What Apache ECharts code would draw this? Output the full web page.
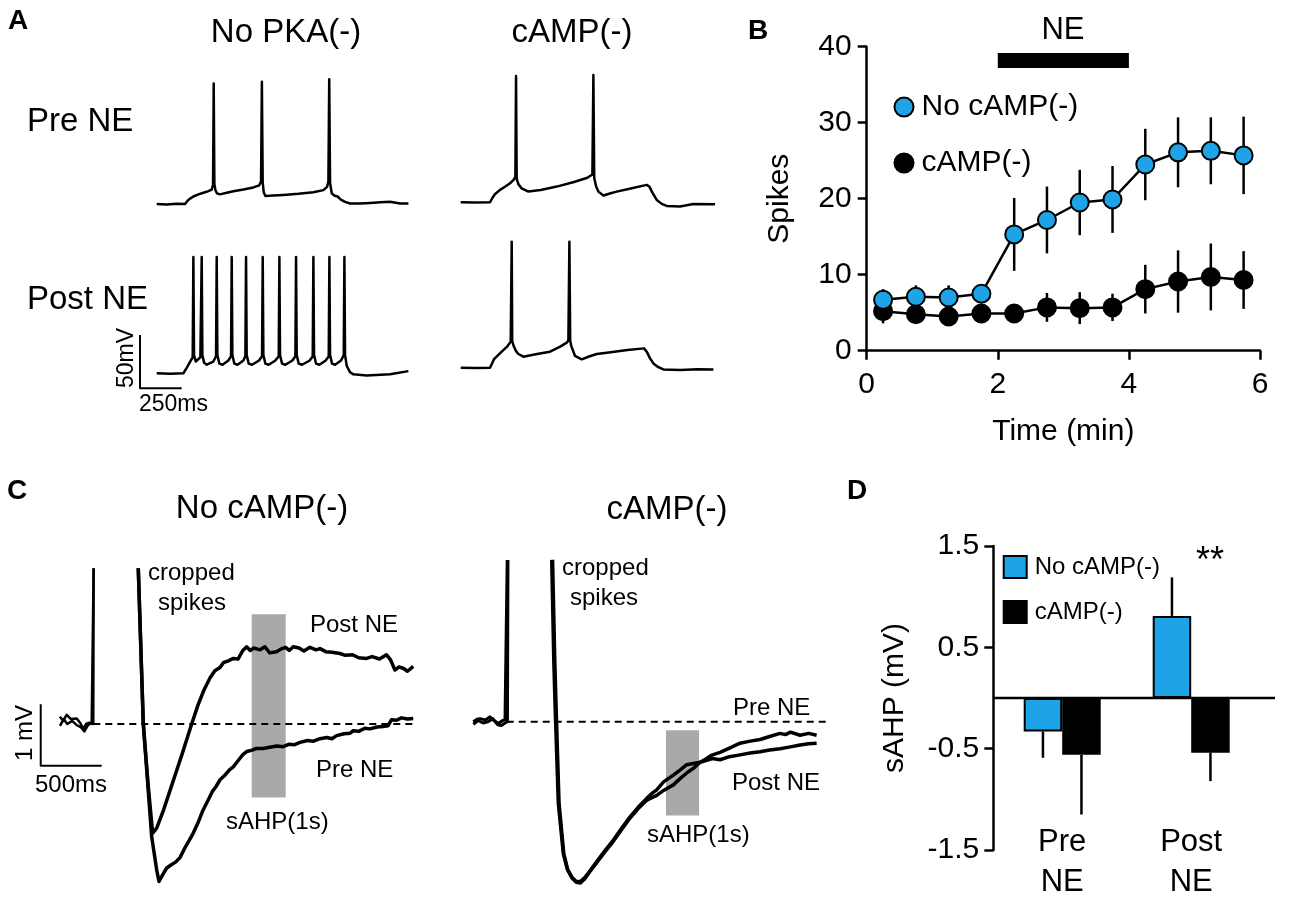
<!DOCTYPE html>
<html><head><meta charset="utf-8">
<script src="https://cdn.jsdelivr.net/npm/echarts@6/dist/echarts.min.js"></script>
<style>html,body{margin:0;padding:0;background:#fff}#c{width:1300px;height:909px}</style>
</head><body><div id="c"></div>
<script>
// ===== Panel A: membrane potential traces [time ms, mV] =====
const aNoPkaPre = [[0,-65],[60,-65.5],[120,-64.8],[170,-65],[185,-62],[200,-60],[220,-58],[250,-56],[280,-54.5],[310,-53],[330,-51.5],[338,-47],[342,48],[346,-46],[352,-52],[362,-55],[380,-56],[420,-54.5],[460,-53],[520,-51.5],[580,-49.5],[615,-47.5],[626,-44],[631,49.5],[636,-45],[642,-54],[652,-57.5],[700,-57],[760,-56.5],[850,-55.5],[940,-54],[1000,-52],[1022,-49],[1030,-44],[1035,52],[1040,-45],[1050,-55],[1065,-57],[1085,-58],[1105,-61],[1130,-63],[1160,-64.5],[1220,-64.5],[1280,-64],[1340,-63.5],[1400,-63],[1460,-64.5],[1510,-64.5]];
const aNoPkaPost = [[0,-65],[80,-65.4],[160,-65],[180,-60],[205,-53],[216,-50],[220,44],[224,-48],[234,-54],[244,-55],[262,-50],[270,44],[274,-48],[284,-55],[300,-57],[340,-54],[356,-49],[360,44],[364,-48],[376,-56],[395,-57],[430,-53],[446,-49],[450,44],[454,-48],[466,-56],[485,-57],[520,-53],[532,-49],[536,44],[540,-48],[552,-56],[572,-57],[614,-53],[632,-49],[636,44],[640,-48],[652,-56],[672,-57],[712,-53],[732,-49],[736,44],[740,-48],[752,-56],[772,-57],[814,-53],[832,-49],[836,44],[840,-48],[852,-56],[872,-57],[918,-53],[936,-49],[940,44],[944,-48],[956,-56],[976,-57],[1014,-53],[1032,-49],[1036,44],[1040,-48],[1052,-56],[1070,-57],[1106,-53],[1122,-48],[1126,44],[1130,-48],[1140,-58],[1160,-64],[1180,-66],[1260,-67],[1400,-66],[1510,-63]];
const aCampPre = [[0,-65],[80,-65.3],[176,-65],[190,-61],[205,-57.5],[236,-53.4],[270,-50],[296,-47.2],[320,-43.5],[328,-41],[332,53.4],[336,-43],[346,-48],[366,-52],[406,-55],[480,-53.5],[576,-50.3],[680,-46],[760,-42],[790,-39],[796,54.4],[801,-42],[812,-50],[826,-55],[856,-58.7],[900,-56.5],[936,-55],[1020,-52],[1116,-48.7],[1132,-50.3],[1150,-56],[1176,-62.8],[1206,-66.5],[1236,-68.4],[1316,-69],[1396,-66.6],[1526,-66.9]];
const aCampPost = [[0,-65],[90,-65.3],[176,-65],[188,-61],[200,-57],[246,-50],[280,-45],[300,-40.6],[304,-39],[306,53.1],[309,-40],[316,-44],[330,-49],[346,-52.2],[376,-54.7],[450,-52.5],[536,-50],[600,-45],[640,-41],[646,-39],[652,53.1],[657,-40],[664,-45],[686,-54],[726,-57.2],[770,-54.5],[816,-52.2],[900,-50.5],[1000,-48.5],[1100,-46.9],[1116,-50],[1135,-56],[1156,-61],[1186,-64.5],[1216,-66.6],[1316,-67.2],[1420,-66.5],[1516,-66.6]];
const aScaleBar = [[-100,-29],[-100,-79],[150,-79]]; // 50 mV, 250 ms

// ===== Panel B: spikes vs time =====
const bTimes = [0.25,0.75,1.25,1.75,2.25,2.75,3.25,3.75,4.25,4.75,5.25,5.75];
const bNoCamp = [6.7,7.1,7.0,7.5,15.3,17.2,19.5,19.9,24.5,26.1,26.3,25.7];
const bNoCampErr = [1.4,1.5,1.6,0.9,4.8,4.4,4.3,4.4,4.7,4.6,4.4,5.1];
const bCamp = [5.2,4.8,4.5,4.9,4.9,5.7,5.6,5.7,8.1,9.1,9.7,9.3];
const bCampErr = [1.6,0.9,0.8,0.9,0.8,1.9,2.1,1.8,3.2,4.1,4.4,3.8];
const bNEPeriod = [[2,38.2],[4,38.2]];

// ===== Panel C: sAHP traces [time ms, mV] =====
const cNoCampSpikeA = [[0,0.12],[25,0.05],[55,0.15],[90,0.08],[137,0.09],[165,0.02],[191,-0.08],[215,0.0],[240,0.02],[273,0.0],[276,2.54]];
const cNoCampSpikeB = [[0,-0.03],[30,0.08],[60,0.0],[100,0.05],[137,-0.02],[170,-0.05],[200,-0.12],[230,-0.02],[260,0.02],[273,0.0],[276,2.54]];
const cNoCampPre = [[642,2.54],[683,0.01],[752,-1.84],[793,-2.38],[812,-2.57],[826,-2.55],[845,-2.45],[875,-2.35],[910,-2.30],[950,-2.25],[984,-2.18],[1030,-2.00],[1060,-1.90],[1093,-1.78],[1130,-1.62],[1170,-1.42],[1203,-1.29],[1250,-1.10],[1280,-1.02],[1312,-0.91],[1350,-0.84],[1390,-0.75],[1421,-0.70],[1460,-0.60],[1500,-0.50],[1531,-0.45],[1570,-0.43],[1610,-0.40],[1667,-0.40],[1720,-0.38],[1780,-0.36],[1831,-0.37],[1880,-0.33],[1920,-0.34],[1968,-0.30],[2030,-0.27],[2080,-0.28],[2132,-0.24],[2190,-0.22],[2230,-0.24],[2268,-0.19],[2330,-0.16],[2380,-0.15],[2405,-0.11],[2450,-0.12],[2500,-0.07],[2541,-0.08],[2600,-0.05],[2651,-0.04],[2690,-0.03],[2719,0.07],[2760,0.06],[2800,0.10],[2850,0.08],[2897,0.09]];
const cNoCampPost = [[642,2.54],[683,0.01],[724,-1.02],[760,-1.78],[793,-1.70],[850,-1.40],[900,-1.10],[950,-0.80],[1000,-0.50],[1040,-0.25],[1080,0.00],[1130,0.30],[1180,0.55],[1230,0.75],[1270,0.87],[1312,0.92],[1340,1.00],[1380,1.03],[1421,1.07],[1460,1.06],[1500,1.20],[1531,1.26],[1560,1.20],[1590,1.24],[1640,1.21],[1680,1.26],[1720,1.16],[1776,1.18],[1810,1.22],[1850,1.25],[1880,1.20],[1913,1.26],[1960,1.24],[2000,1.19],[2050,1.25],[2100,1.21],[2132,1.23],[2180,1.18],[2230,1.17],[2296,1.15],[2340,1.12],[2400,1.13],[2450,1.08],[2514,1.07],[2560,1.10],[2620,1.06],[2678,1.13],[2710,1.05],[2747,0.88],[2780,0.93],[2815,0.91],[2850,0.86],[2897,0.94]];
const cNoCampBaseline = [[273,0],[2895,0]];
const cNoCampWindow = [[1572,-1.20],[1851,1.79]];
const cNoCampScaleBar = [[-158,0.32],[-158,-0.68],[342,-0.68]]; // 1 mV, 500 ms

const cCampSpikeA = [[0,0.0],[30,0.04],[55,0.05],[100,0.03],[137,0.08],[170,0.02],[205,-0.03],[240,0.02],[260,0.03],[274,0.0],[278,2.64]];
const cCampSpikeB = [[0,-0.04],[40,0.02],[80,-0.02],[120,0.0],[160,0.05],[200,-0.05],[230,-0.06],[260,-0.02],[280,0.0],[284,2.64]];
const cCampPre = [[643,2.64],[660,1.0],[670,0.30],[697,-1.33],[738,-2.15],[770,-2.40],[807,-2.53],[840,-2.60],[875,-2.61],[910,-2.55],[943,-2.47],[975,-2.38],[1012,-2.28],[1080,-2.10],[1148,-1.93],[1215,-1.74],[1285,-1.55],[1350,-1.40],[1422,-1.25],[1470,-1.16],[1504,-1.11],[1560,-0.98],[1640,-0.87],[1700,-0.78],[1749,-0.70],[1804,-0.68],[1860,-0.66],[1913,-0.63],[1960,-0.60],[2023,-0.62],[2100,-0.57],[2187,-0.54],[2270,-0.51],[2351,-0.49],[2430,-0.46],[2515,-0.44],[2600,-0.41],[2679,-0.38],[2750,-0.36],[2815,-0.35]];
const cCampPost = [[650,2.64],[668,1.0],[678,0.30],[703,-1.33],[742,-2.15],[775,-2.42],[810,-2.55],[845,-2.62],[878,-2.63],[915,-2.56],[950,-2.46],[1012,-2.30],[1080,-2.12],[1148,-1.95],[1215,-1.76],[1285,-1.57],[1350,-1.42],[1422,-1.28],[1504,-1.20],[1560,-1.12],[1640,-1.03],[1700,-0.92],[1760,-0.82],[1804,-0.76],[1860,-0.66],[1913,-0.60],[1950,-0.55],[2023,-0.50],[2100,-0.43],[2187,-0.35],[2260,-0.32],[2351,-0.29],[2430,-0.24],[2515,-0.19],[2560,-0.21],[2600,-0.17],[2679,-0.22],[2750,-0.19],[2815,-0.22]];
const cCampBaseline = [[274,0],[2925,0]];
const cCampWindow = [[1580,-1.53],[1851,-0.14]];

// ===== Panel D: sAHP bars =====
const dCategories = ['Pre\nNE', 'Post\nNE'];
const dNoCamp = [-0.33, 0.81];
const dNoCampErr = [0.26, 0.38];
const dCamp = [-0.56, -0.54];
const dCampErr = [0.59, 0.28];
const dYTicks = {min: -1.5, max: 1.5, step: 1};

// ===== styling =====
const FONT = 'Liberation Sans, Arial, Helvetica, sans-serif';
const BLUE = '#1ea3e6';
const GREY = '#a9a9a9';
const BAR_W = 38.5;

const chart = echarts.init(document.getElementById('c'), null, {renderer: 'canvas'});

function hiddenAxes(gridIndex, xr, yr) {
  return {
    x: {type: 'value', gridIndex, min: xr[0], max: xr[1], show: false},
    y: {type: 'value', gridIndex, min: yr[0], max: yr[1], show: false}
  };
}
const grids = [
  {left: 136.7, top: 76, width: 276.7, height: 149.3},   // 0 A no PKA pre
  {left: 136.7, top: 245.3, width: 276.7, height: 149.3},// 1 A no PKA post
  {left: 440.7, top: 74.3, width: 276.7, height: 149.3}, // 2 A cAMP pre
  {left: 440.7, top: 239.7, width: 276.7, height: 149.3},// 3 A cAMP post
  {left: 866.7, top: 46.7, width: 393.3, height: 304},   // 4 B
  {left: 35.6, top: 568.3, width: 384.1, height: 327.3}, // 5 C no cAMP
  {left: 473.3, top: 559.9, width: 359.8, height: 333.5},// 6 C cAMP
  {left: 997.7, top: 546, width: 258, height: 304},      // 7 D bars
  {left: 993.3, top: 546, width: 281.7, height: 304}     // 8 D zero line
];
const xAxes = [], yAxes = [];
[0,1,2,3].forEach(i => { const a = hiddenAxes(i, [-120,1540], [-85,55]); xAxes.push(a.x); yAxes.push(a.y); });
// B axes
const axisLineStyle = {color: '#000', width: 2.5};
xAxes.push({type: 'value', gridIndex: 4, min: 0, max: 6, interval: 2,
  axisLine: {show: true, onZero: false, lineStyle: axisLineStyle},
  axisTick: {show: true, length: 9, lineStyle: axisLineStyle},
  axisLabel: {fontSize: 30, color: '#000', fontFamily: FONT, margin: 19},
  splitLine: {show: false},
  name: 'Time (min)', nameLocation: 'middle', nameGap: 66,
  nameTextStyle: {fontSize: 30, color: '#000', fontFamily: FONT}});
yAxes.push({type: 'value', gridIndex: 4, min: 0, max: 40, interval: 10,
  axisLine: {show: true, onZero: false, lineStyle: axisLineStyle},
  axisTick: {show: true, length: 9, lineStyle: axisLineStyle},
  axisLabel: {fontSize: 30, color: '#000', fontFamily: FONT, margin: 15},
  splitLine: {show: false},
  name: 'Spikes', nameLocation: 'middle', nameGap: 72, nameRotate: 90,
  nameTextStyle: {fontSize: 30, color: '#000', fontFamily: FONT}});
// C axes
{ const a = hiddenAxes(5, [-200,2950], [-2.8,2.54]); xAxes.push(a.x); yAxes.push(a.y); }
{ const a = hiddenAxes(6, [0,2950], [-2.8,2.64]); xAxes.push(a.x); yAxes.push(a.y); }
// D axes
xAxes.push({type: 'category', gridIndex: 7, data: dCategories, offset: -28,
  axisLine: {show: false, onZero: false}, axisTick: {show: false},
  axisLabel: {fontSize: 31, lineHeight: 40, color: '#000', fontFamily: FONT, margin: 0}});
yAxes.push({type: 'value', gridIndex: 7, min: dYTicks.min, max: dYTicks.max, interval: dYTicks.step, offset: 4.4,
  axisLine: {show: true, onZero: false, lineStyle: axisLineStyle},
  axisTick: {show: true, length: 9, lineStyle: axisLineStyle},
  axisLabel: {fontSize: 30, color: '#000', fontFamily: FONT, margin: 14},
  splitLine: {show: false},
  name: 'sAHP (mV)', nameLocation: 'middle', nameGap: 84, nameRotate: 90,
  nameTextStyle: {fontSize: 30, color: '#000', fontFamily: FONT}});
{ const a = hiddenAxes(8, [0,1], [dYTicks.min, dYTicks.max]); xAxes.push(a.x); yAxes.push(a.y); }

function trace(idx, data, width, z) {
  return {type: 'line', xAxisIndex: idx, yAxisIndex: idx, data, symbol: 'none', showSymbol: false,
    lineStyle: {color: '#000', width: width, join: 'round'}, z: z || 3, silent: true};
}
function errBarsB(name, means, errs, z) {
  return {type: 'custom', name: name + ' err', xAxisIndex: 4, yAxisIndex: 4, z,
    data: bTimes.map((t, i) => [t, means[i] - errs[i], means[i] + errs[i]]),
    renderItem: (params, api) => {
      const p1 = api.coord([api.value(0), api.value(1)]);
      const p2 = api.coord([api.value(0), api.value(2)]);
      return {type: 'line', shape: {x1: p1[0], y1: p1[1], x2: p2[0], y2: p2[1]},
        style: {stroke: '#000', lineWidth: 2.5}};
    }};
}
function errBarsD(values, errs, side) {
  return {type: 'custom', xAxisIndex: 7, yAxisIndex: 7, z: 1,
    data: values.map((v, i) => [i, v, v + Math.sign(v) * errs[i]]),
    renderItem: (params, api) => {
      const p1 = api.coord([api.value(0), api.value(1)]);
      const p2 = api.coord([api.value(0), api.value(2)]);
      const dx = side * BAR_W / 2;
      return {type: 'line', shape: {x1: p1[0] + dx, y1: p1[1], x2: p2[0] + dx, y2: p2[1]},
        style: {stroke: '#000', lineWidth: 2.5}};
    }};
}

const series = [
  // Panel A
  trace(0, aNoPkaPre, 2.5), trace(1, aNoPkaPost, 2.5), trace(1, aScaleBar, 2),
  trace(2, aCampPre, 2.5), trace(3, aCampPost, 2.5),
  // Panel B
  errBarsB('cAMP(-)', bCamp, bCampErr, 1),
  errBarsB('No cAMP(-)', bNoCamp, bNoCampErr, 1),
  {type: 'line', name: 'cAMP(-)', xAxisIndex: 4, yAxisIndex: 4, z: 2,
   data: bTimes.map((t, i) => [t, bCamp[i]]), symbol: 'circle', symbolSize: 18, showSymbol: true,
   lineStyle: {color: '#000', width: 2.5}, itemStyle: {color: '#000', borderColor: '#000', borderWidth: 2}},
  {type: 'line', name: 'No cAMP(-)', xAxisIndex: 4, yAxisIndex: 4, z: 3,
   data: bTimes.map((t, i) => [t, bNoCamp[i]]), symbol: 'circle', symbolSize: 18, showSymbol: true,
   lineStyle: {color: '#000', width: 2.5}, itemStyle: {color: BLUE, borderColor: '#000', borderWidth: 2}},
  {type: 'line', xAxisIndex: 4, yAxisIndex: 4, data: bNEPeriod, symbol: 'none',
   lineStyle: {color: '#000', width: 15, cap: 'butt'}, silent: true},
  // Panel C left
  {type: 'line', xAxisIndex: 5, yAxisIndex: 5, data: cNoCampBaseline, symbol: 'none', z: 1, silent: true,
   lineStyle: {color: '#000', width: 2, type: [7, 5]},
   markArea: {silent: true, itemStyle: {color: GREY}, data: [[{coord: cNoCampWindow[0]}, {coord: cNoCampWindow[1]}]]}},
  trace(5, cNoCampSpikeA, 2.5), trace(5, cNoCampSpikeB, 2.5),
  trace(5, cNoCampPre, 3.5), trace(5, cNoCampPost, 3.5), trace(5, cNoCampScaleBar, 2),
  // Panel C right
  {type: 'line', xAxisIndex: 6, yAxisIndex: 6, data: cCampBaseline, symbol: 'none', z: 1, silent: true,
   lineStyle: {color: '#000', width: 2, type: [7, 5]},
   markArea: {silent: true, itemStyle: {color: GREY}, data: [[{coord: cCampWindow[0]}, {coord: cCampWindow[1]}]]}},
  trace(6, cCampSpikeA, 3), trace(6, cCampSpikeB, 3),
  trace(6, cCampPre, 3.5), trace(6, cCampPost, 3.5),
  // Panel D
  {type: 'bar', name: 'No cAMP(-)', xAxisIndex: 7, yAxisIndex: 7, data: dNoCamp, barWidth: BAR_W, barGap: '0%', z: 2,
   itemStyle: {color: BLUE, borderColor: '#000', borderWidth: 2}},
  {type: 'bar', name: 'cAMP(-)', xAxisIndex: 7, yAxisIndex: 7, data: dCamp, barWidth: BAR_W, barGap: '0%', z: 2,
   itemStyle: {color: '#000', borderColor: '#000', borderWidth: 2}},
  errBarsD(dNoCamp, dNoCampErr, -1), errBarsD(dCamp, dCampErr, 1),
  {type: 'line', xAxisIndex: 8, yAxisIndex: 8, data: [[0, 0], [1, 0]], symbol: 'none', z: 3, silent: true,
   lineStyle: {color: '#000', width: 2.5}}
];

function txt(text, x, y, size, opts) {
  opts = opts || {};
  return {type: 'text', x, y, rotation: opts.rot || 0, silent: true, z: 10,
    style: {text, fill: '#000', fontSize: size, fontFamily: FONT, fontWeight: opts.bold ? 'bold' : 'normal',
      align: opts.align || 'left', verticalAlign: 'middle',
      textAlign: opts.align || 'left', textVerticalAlign: 'middle'}};
}
const R = Math.PI / 2;
const graphic = [
  txt('A', 8, 21, 28, {bold: true}), txt('B', 748, 31, 28, {bold: true}),
  txt('C', 7, 491, 28, {bold: true}), txt('D', 847, 491, 28, {bold: true}),
  txt('No PKA(-)', 286, 33, 33, {align: 'center'}), txt('cAMP(-)', 572, 33, 33, {align: 'center'}),
  txt('Pre NE', 27, 122, 33), txt('Post NE', 27, 300, 33),
  txt('50mV', 127, 358, 23, {align: 'center', rot: R}), txt('250ms', 139, 405, 23),
  txt('NE', 1063, 30, 31, {align: 'center'}),
  txt('No cAMP(-)', 262, 509, 33, {align: 'center'}), txt('cAMP(-)', 667, 510, 33, {align: 'center'}),
  txt('cropped', 148, 573, 24), txt('spikes', 158, 603, 24),
  txt('Post NE', 310, 625, 24), txt('Pre NE', 316, 770, 24), txt('sAHP(1s)', 226, 822, 24),
  txt('1 mV', 25, 733, 24, {align: 'center', rot: R}), txt('500ms', 35, 785, 24),
  txt('cropped', 562, 568, 24), txt('spikes', 570, 598, 24),
  txt('Pre NE', 733, 708, 24), txt('Post NE', 732, 783, 24), txt('sAHP(1s)', 647, 835, 24),
  txt('**', 1210, 562, 36, {align: 'center'})
];

chart.setOption({
  animation: false,
  backgroundColor: '#fff',
  grid: grids, xAxis: xAxes, yAxis: yAxes, series,
  legend: [
    {orient: 'vertical', left: 893.5, top: 90, padding: 0, itemWidth: 19, itemHeight: 19, itemGap: 22, icon: 'circle',
     selectedMode: false, data: ['No cAMP(-)', 'cAMP(-)'],
     textStyle: {fontSize: 30, color: '#000', fontFamily: FONT, lineHeight: 34, padding: [0, 0, 0, 3]}},
    {orient: 'vertical', left: 1002.7, top: 555, padding: 0, itemWidth: 23, itemHeight: 22, itemGap: 21, icon: 'rect',
     selectedMode: false, data: ['No cAMP(-)', 'cAMP(-)'],
     textStyle: {fontSize: 24, color: '#000', fontFamily: FONT, lineHeight: 22, padding: [0, 0, 0, 3]}}
  ],
  graphic
});
</script></body></html>
